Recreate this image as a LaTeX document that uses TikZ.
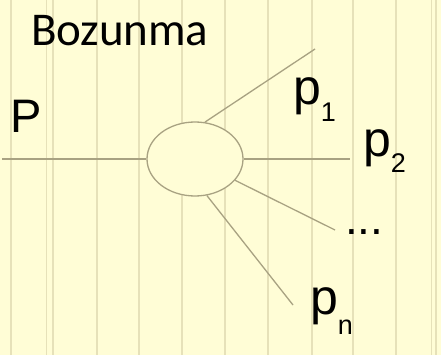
\documentclass[tikz,border=0pt]{standalone}
\usepackage{fontspec}
\setmainfont{Liberation Sans}
\newfontfamily\titlefont{Carlito}
\usetikzlibrary{shapes.geometric}

\definecolor{paper}{HTML}{FFFDD6}
\definecolor{rule}{HTML}{E6E1B9}
\definecolor{wire}{HTML}{A8A282}

\tikzset{
  wireline/.style={draw=wire, line width=1.3pt},
  vertex/.style={ellipse, draw=wire, line width=1.3pt, fill=paper,
                 minimum width=96pt, minimum height=74pt, inner sep=0pt},
  particle/.style={anchor=base west, inner sep=0pt, outer sep=0pt,
                   font=\fontsize{50}{50}\selectfont},
  bigP/.style={anchor=base west, inner sep=0pt, outer sep=0pt,
               font=\fontsize{47}{47}\selectfont},
  heading/.style={anchor=base west, inner sep=0pt, outer sep=0pt,
                  font=\titlefont\fontsize{47}{47}\selectfont},
}
% index set below the baseline: #1 kern, #2 drop, #3 text
\newcommand{\lowidx}[3]{\kern#1pt\raisebox{-#2pt}{\fontsize{27}{27}\selectfont #3}}

\begin{document}
\begin{tikzpicture}[x=1pt, y=-1pt]
  % paper with ruled vertical lines
  \fill[paper] (0,0) rectangle (441,355);
  \useasboundingbox (0,0) rectangle (441,355);
  \foreach \x in {11,53,97,139,182,225,268,312,353,396,436}
    \draw[rule, line width=1.4pt] (\x,0) -- (\x,355);
  \foreach \x in {46,431}
    \draw[rule, line width=0.8pt] (\x,0) -- (\x,355);

  % decay vertex
  \node[vertex] (d) at (195,159) {};

  % free ends of the lines
  \coordinate (inP) at (2,159);
  \coordinate (out1) at (315,49);
  \coordinate (out2) at (350,159);
  \coordinate (out3) at (335,230);
  \coordinate (outn) at (293,305);

  \draw[wireline] (inP) -- (d.west);
  \draw[wireline] (d.75) -- (out1);
  \draw[wireline] (d.east) -- (out2);
  \draw[wireline] (d.-28) -- (out3);
  \draw[wireline] (d.-72) -- (outn);

  % labels
  \node[heading] (title) at (31,46) {Bozunma};
  \node[bigP] (lP) at (10,133) {P};
  \node[particle] (l1) at (293,105) {p\lowidx{0}{17}{1}};
  \node[particle] (l2) at (363,157) {p\lowidx{0}{16}{2}};
  \node[particle, font=\fontsize{46}{46}\selectfont] (l3) at (345,234) {...};
  \node[particle] (ln) at (310,314) {p\lowidx{0}{20}{n}};
\end{tikzpicture}
\end{document}
